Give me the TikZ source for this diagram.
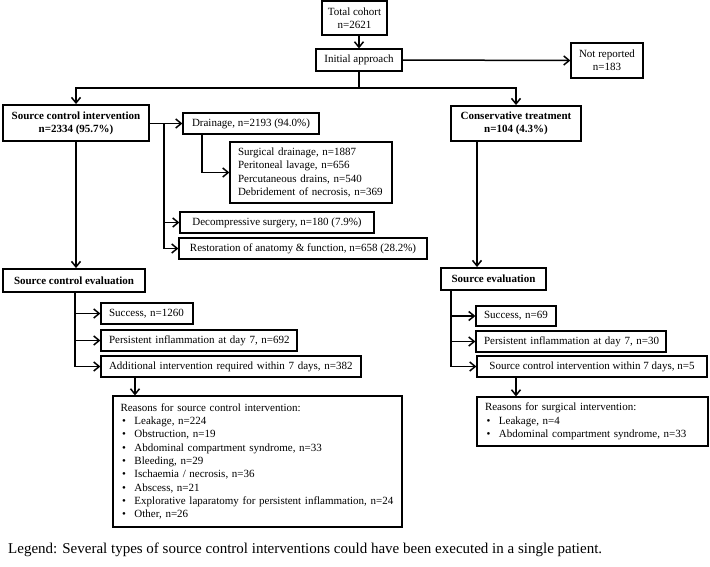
\documentclass[tikz,border=0pt]{standalone}
\usepackage{fontspec}
\setmainfont{Liberation Serif}
\usetikzlibrary{arrows.meta,calc}
\newcommand{\bul}[1]{\makebox[14pt][l]{\hspace{1.5pt}\textbullet}#1}
\begin{document}
\begin{tikzpicture}[x=1pt,y=-1pt,
  box/.style={draw,line width=1.2pt,rectangle,inner sep=0pt,align=center,font=\fontsize{11}{13.3}\selectfont},
  hbox/.style={box,line width=1.9pt,font=\fontsize{11}{13.3}\selectfont\bfseries},
  lbox/.style={box,inner xsep=8pt,align=left,text width=#1},
  arr/.style={line width=1.5pt,-{Straight Barb[length=5.5pt,width=9pt,line width=1.5pt]}},
  ln/.style={line width=1.5pt}]
\useasboundingbox (0,0) rectangle (710,566);
% nodes
\node[box,minimum width=65pt,minimum height=34pt] (tc) at (354.5,18) {Total cohort\\n=2621};
\node[box,minimum width=86pt,minimum height=22pt] (ia) at (359,60) {Initial approach};
\node[box,minimum width=72pt,minimum height=35pt] (nr) at (607,60.5) {Not reported\\n=183};
\node[hbox,minimum width=146pt,minimum height=36pt] (sci) at (76,123) {Source control intervention\\n=2334 (95.7\%)};
\node[hbox,minimum width=130pt,minimum height=35pt] (ct) at (516,123.5) {Conservative treatment\\n=104 (4.3\%)};
\node[box,minimum width=136pt,minimum height=21pt] (dr) at (251,123.5) {Drainage, n=2193 (94.0\%)};
\node[lbox=146pt,minimum width=162pt,minimum height=61pt] (sub) at (311,172.5) {Surgical drainage, n=1887\\Peritoneal lavage, n=656\\Percutaneous drains, n=540\\Debridement of necrosis, n=369};
\node[box,minimum width=194pt,minimum height=21pt] (dec) at (277,222.5) {Decompressive surgery, n=180 (7.9\%)};
\node[box,minimum width=248pt,minimum height=21pt] (res) at (303,248.5) {Restoration of anatomy \& function, n=658 (28.2\%)};
\node[hbox,minimum width=142pt,minimum height=23pt] (sce) at (74,280.5) {Source control evaluation};
\node[hbox,minimum width=105pt,minimum height=22pt] (se) at (493.5,279) {Source evaluation};
\node[lbox=76pt,minimum width=92pt,minimum height=21pt] (s1) at (147,313.5) {\mbox{Success, n=1260}};
\node[lbox=180pt,minimum width=196pt,minimum height=21pt] (p1) at (199,340.5) {\mbox{Persistent inflammation at day 7, n=692}};
\node[lbox=244pt,minimum width=260pt,minimum height=21pt] (a1) at (231,366.5) {\mbox{Additional intervention required within 7 days, n=382}};
\node[lbox=274pt,inner xsep=7pt,minimum width=289pt,minimum height=131pt] (r1) at (257.5,461.5) {Reasons for source control intervention:\\
\bul{Leakage, n=224}\\
\bul{Obstruction, n=19}\\
\bul{Abdominal compartment syndrome, n=33}\\
\bul{Bleeding, n=29}\\
\bul{Ischaemia / necrosis, n=36}\\
\bul{Abscess, n=21}\\
\bul{Explorative laparatomy for persistent inflammation, n=24}\\
\bul{Other, n=26}};
\node[lbox=64pt,minimum width=80pt,minimum height=20pt] (s2) at (516,316) {\mbox{Success, n=69}};
\node[lbox=174pt,minimum width=190pt,minimum height=21pt] (p2) at (571,341.5) {\mbox{Persistent inflammation at day 7, n=30}};
\node[box,minimum width=230pt,minimum height=21pt] (a2) at (592,366.5) {Source control intervention within 7 days, n=5};
\node[lbox=215pt,minimum width=231pt,minimum height=49pt] (r2) at (592.5,421.5) {Reasons for surgical intervention:\\
\bul{Leakage, n=4}\\
\bul{Abdominal compartment syndrome, n=33}};
\node[anchor=base west,inner sep=0pt,font=\fontsize{15}{18}\selectfont] (leg) at (8,553) {Legend: Several types of source control interventions could have been executed in a single patient.};
% coordinates
\coordinate (split) at (ia.south |- 0,88);
\coordinate (b1) at (164,123);
\coordinate (b2) at (164,249);
\coordinate (c1) at (75,367);
\coordinate (c2) at (451,367);
\coordinate (ctb) at (477,141);
\coordinate (drb) at (202,0);
\coordinate (a1b) at (135,0);
\coordinate (a2b) at (516,0);
% connectors
\draw[arr] (tc.south -| ia.north) -- (ia.north);
\draw[arr] (ia.east) -- (nr.west);
\draw[ln] (ia.south) -- (split);
\draw[arr] (split) -| (sci.north);
\draw[arr] (split) -| (ct.north);
\draw[arr] (sci.east |- dr.west) -- (dr.west);
\draw[ln] (b1 |- dr.west) -- (b2 |- res.west);
\draw[arr] (b1 |- dec.west) -- (dec.west);
\draw[arr] (b1 |- res.west) -- (res.west);
\draw[arr] (dr.south -| drb) |- (sub.west);
\draw[arr] (sci.south) -- (sci.south |- sce.north);
\draw[arr] (ct.south -| ctb) -- (ctb |- se.north);
\draw[ln] (sce.south -| c1) -- (c1 |- a1.west);
\draw[arr] (c1 |- s1.west) -- (s1.west);
\draw[arr] (c1 |- p1.west) -- (p1.west);
\draw[arr] (c1 |- a1.west) -- (a1.west);
\draw[ln] (se.south -| c2) -- (c2 |- a2.west);
\draw[arr] (c2 |- s2.west) -- (s2.west);
\draw[arr] (c2 |- p2.west) -- (p2.west);
\draw[arr] (c2 |- a2.west) -- (a2.west);
\draw[arr] (a1.south -| a1b) -- (r1.north -| a1b);
\draw[arr] (a2.south -| a2b) -- (r2.north -| a2b);
\end{tikzpicture}
\end{document}
